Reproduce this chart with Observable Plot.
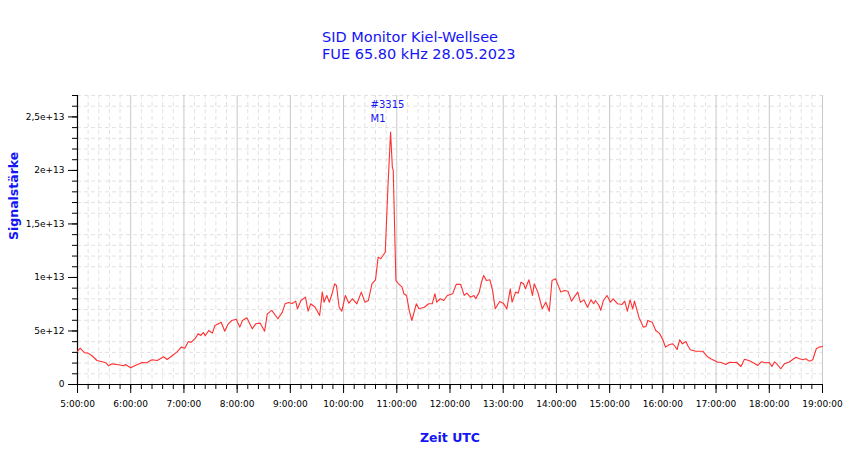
<!DOCTYPE html>
<html>
<head>
<meta charset="utf-8">
<script src="https://cdn.jsdelivr.net/npm/d3@7"></script>
<script src="https://cdn.jsdelivr.net/npm/@observablehq/plot@0.6"></script>
<style>
  html, body { margin: 0; padding: 0; background: white; }
  #wrap { position: relative; width: 850px; height: 459px; overflow: hidden; }
  #title { position: absolute; left: 322px; top: 29px; font-family: "DejaVu Sans", sans-serif; font-size: 14.5px; line-height: 17px; color: #1414f5; white-space: nowrap; }
  #chart { position: absolute; left: 0; top: 70px; }
</style>
</head>
<body>
<div id="wrap">
  <div id="title"></div>
  <div id="chart"></div>
</div>
<script>
const titleLines = ["SID Monitor Kiel-Wellsee", "FUE 65.80 kHz 28.05.2023"];
const xLabel = "Zeit UTC";
const yLabel = "Signalstärke";
const peakLabel = "#3315\nM1";

// minutes after 05:00 UTC
const minutesAfter5 = [0,3,8,12,16,22,28,32,35,39,46,52,54,60,65,73,78,84,90,97,101,107,112,117,121,125,128,133,136,139,142,144,148,152,155,162,166,170,174,179,183,186,191,197,201,206,211,214,219,226,231,234,238,242,246,248,252,257,260,263,268,273,276,278,281,284,287,290,292,295,298,302,306,310,315,320,324,328,332,336,339,342,345,347,350,353,355,356,359,362,366,368,371,374,377,382,385,391,396,400,403,405,409,413,417,423,427,432,436,439,443,447,449,453,455,458,461,465,468,471,476,480,484,488,490,494,497,500,503,505,509,513,515,519,524,528,532,535,539,545,549,553,557,560,564,567,571,575,579,582,584,588,590,593,597,601,604,609,614,617,620,623,626,628,633,638,641,643,648,652,656,660,663,667,671,673,676,679,682,686,688,691,697,705,710,714,718,722,725,731,735,740,743,748,752,757,763,767,771,776,780,783,786,789,793,797,802,810,814,818,821,825,829,833,836,840];
// signal strength in units of 1e12
const signalE12 = [3.10,3.40,2.96,2.93,2.71,2.24,2.12,2.03,1.75,1.93,1.84,1.75,1.87,1.56,1.78,2.06,2.03,2.31,2.24,2.59,2.34,2.71,3.02,3.49,3.39,4.02,3.93,4.33,4.74,4.58,4.86,4.55,5.05,4.80,5.51,5.82,4.98,5.67,5.98,6.10,5.36,5.98,6.23,5.20,5.67,5.73,4.98,6.60,6.92,6.14,6.76,7.54,7.66,7.57,7.79,7.07,7.85,8.16,6.85,7.54,7.22,6.45,8.63,7.69,8.32,7.69,8.48,9.41,9.25,7.22,6.85,8.32,7.60,8.01,7.54,8.63,7.69,7.85,9.41,9.78,11.90,11.75,12.12,12.36,18.40,23.58,20.30,20.00,9.72,9.41,9.10,8.48,8.32,6.92,5.98,7.54,7.07,7.22,7.54,7.54,8.48,7.69,8.01,7.85,8.32,8.48,9.35,9.35,8.32,8.53,8.16,8.32,8.01,8.63,9.41,10.19,9.72,9.78,8.79,7.07,7.76,7.60,7.07,8.94,7.69,8.63,8.53,9.56,9.41,8.94,9.78,8.32,9.41,8.63,7.07,7.69,6.85,9.72,9.88,8.63,8.79,8.72,7.79,8.16,8.63,7.69,7.91,7.22,7.91,7.54,7.85,7.38,6.92,7.85,8.32,7.69,8.01,7.54,7.48,7.79,6.85,7.91,7.07,7.79,6.29,5.36,5.42,5.98,5.82,5.05,4.80,4.18,3.49,3.71,3.80,3.64,3.27,4.18,3.80,4.02,3.64,3.24,3.11,3.11,2.62,2.40,2.24,2.08,2.08,1.87,2.08,2.06,2.08,1.68,2.36,2.24,1.99,1.78,2.12,2.03,2.06,1.68,2.12,1.87,1.47,1.93,2.08,2.55,2.40,2.31,2.40,2.18,2.31,3.34,3.49,3.55];

const peakIndex = 85; // "#3315 M1" marker

document.getElementById("title").innerHTML = titleLines.join("<br>");

const start = Date.UTC(2023, 4, 28, 5, 0);
const end = Date.UTC(2023, 4, 28, 19, 0);
const data = minutesAfter5.map((m, i) => ({t: new Date(start + m * 60000), v: signalE12[i] * 1e12}));
const hourTicks = d3.utcHour.range(new Date(start), new Date(end + 1));
const minorX = d3.utcMinute.every(12).range(new Date(start), new Date(end + 1));
const minorXGrid = minorX.filter(d => d.getUTCMinutes() !== 0);
const yMajor = d3.range(0, 6).map(i => i * 5e12);
const yMinor = d3.range(0, 28).map(i => i * 1e12);
const yMinorGrid = d3.range(0, 28).filter(i => i % 5 !== 0).map(i => i * 1e12);
const yFmt = v => v === 0 ? "0" : d3.format("~e")(v).replace(".", ",");

const blue = "#1414f5";
const chart = Plot.plot({
  width: 850,
  height: 389,
  marginLeft: 77,
  marginRight: 28,
  marginTop: 25,
  marginBottom: 75,
  style: {fontFamily: "DejaVu Sans, sans-serif", fontSize: "9px", color: "black", background: "white"},
  x: {type: "utc", domain: [new Date(start), new Date(end)]},
  y: {domain: [0, 2.7e13]},
  marks: [
    Plot.gridX(minorXGrid, {stroke: "#e2e2e2", strokeOpacity: 1, strokeDasharray: "4,3"}),
    Plot.gridY(yMinorGrid, {stroke: "#e2e2e2", strokeOpacity: 1, strokeDasharray: "4,3"}),
    Plot.gridX(hourTicks, {stroke: "#c8c8c8", strokeOpacity: 1}),
    Plot.axisX(minorX, {tickSize: 5, tickFormat: () => "", label: null}),
    Plot.axisX(hourTicks, {tickSize: 9, tickPadding: 7, tickFormat: d3.utcFormat("%-H:%M:%S"), label: null}),
    Plot.axisY(yMinor, {tickSize: 5, tickFormat: () => "", label: null}),
    Plot.axisY(yMajor, {tickSize: 9, tickPadding: 4, tickFormat: yFmt, label: null}),
    Plot.ruleY([0], {stroke: "black", strokeWidth: 1.2}),
    Plot.ruleX([new Date(start)], {stroke: "black", strokeWidth: 1.2}),
    Plot.line(data, {x: "t", y: "v", stroke: "#ff3030", strokeWidth: 1.1}),
    Plot.text([data[peakIndex]], {x: "t", y: "v", text: () => peakLabel, textAnchor: "start", lineAnchor: "bottom", lineHeight: 1.44, dx: -20, dy: -10, fill: blue, fontSize: 10}),
    Plot.text([yLabel], {text: d => d, frameAnchor: "left", dx: -64, rotate: -90, fill: blue, fontWeight: "bold", fontSize: 12.5}),
    Plot.text([xLabel], {text: d => d, frameAnchor: "bottom", dy: 57, fill: blue, fontWeight: "bold", fontSize: 12.5})
  ]
});
document.getElementById("chart").appendChild(chart);
</script>
</body>
</html>
